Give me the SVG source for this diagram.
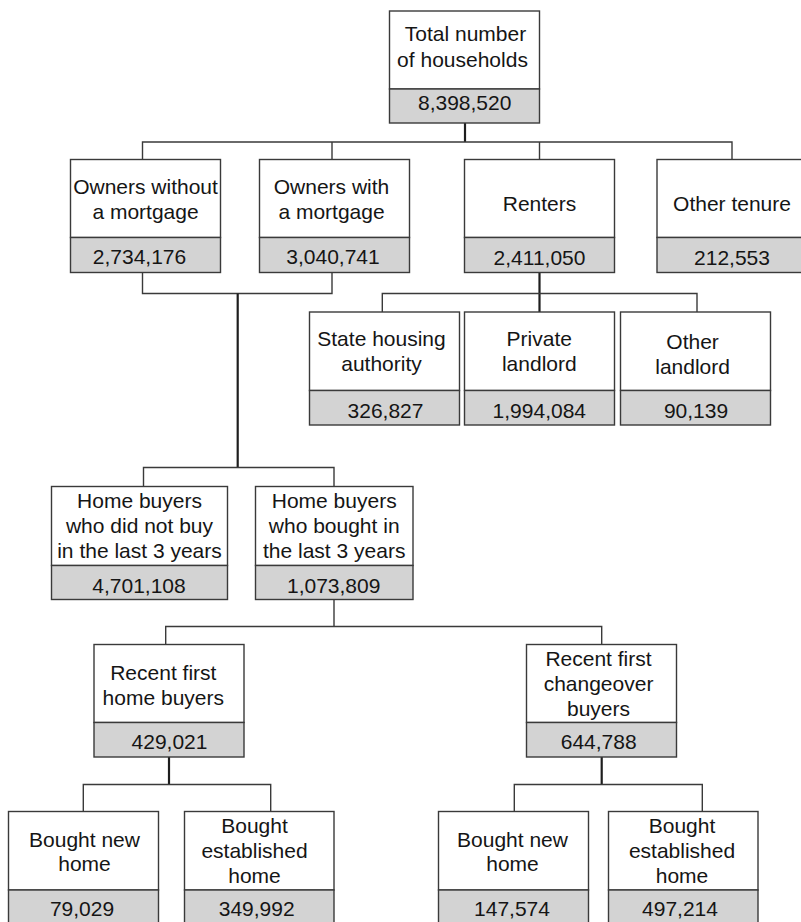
<svg xmlns="http://www.w3.org/2000/svg" width="801" height="922" viewBox="0 0 801 922">
<style>
.w{fill:#fff;stroke:#3a3a3a;stroke-width:1.4}
.g{fill:#d3d3d3;stroke:#3a3a3a;stroke-width:1.4}
.t{font-family:"Liberation Sans",Arial,sans-serif;font-size:21px;fill:#151515;text-anchor:middle}
.c{fill:none;stroke:#3a3a3a;stroke-width:1.4}
.k{fill:none;stroke:#1e1e1e;stroke-width:2.2}
</style>
<rect width="801" height="922" fill="#fff"/>
<g id="connectors">
<path class="k" d="M465 123V142"/>
<path class="c" d="M142.5 159.5V142H732V159.5M332 142V159.5M539.5 142V159.5"/>
<path class="c" d="M142.5 272.5V293.5H332V272.5"/>
<path class="k" d="M237.7 293.5V467.5"/>
<path class="c" d="M143.5 486.5V467.5H334V486.5"/>
<path class="k" d="M539.5 272.5V312"/>
<path class="c" d="M382.3 312V293.5H697V312"/>
<path class="c" d="M334 599.5V626.5"/>
<path class="c" d="M165.7 644.5V626.5H601.7V644.5"/>
<path class="k" d="M169 757V784.5"/>
<path class="c" d="M83.3 811.5V784.5H270.7V811.5"/>
<path class="k" d="M601.7 757V784.5"/>
<path class="c" d="M514.3 811.5V784.5H702.3V811.5"/>
</g>
<g id="total">
<rect class="w" x="389.5" y="11" width="150" height="78"/>
<rect class="g" x="389.5" y="89" width="150" height="34"/>
<text class="t" x="465.5" y="40.7">Total number</text>
<text class="t" x="462.5" y="66.7">of households</text>
<text class="t" x="464.7" y="110">8,398,520</text>
</g>
<g id="owners-without">
<rect class="w" x="70.5" y="159.5" width="150" height="78"/>
<rect class="g" x="70.5" y="237.5" width="150" height="35"/>
<text class="t" x="145.5" y="194">Owners without</text>
<text class="t" x="145.5" y="219">a mortgage</text>
<text class="t" x="139.5" y="264">2,734,176</text>
</g>
<g id="owners-with">
<rect class="w" x="259.5" y="159.5" width="150" height="78"/>
<rect class="g" x="259.5" y="237.5" width="150" height="35"/>
<text class="t" x="331.5" y="194">Owners with</text>
<text class="t" x="331.5" y="219">a mortgage</text>
<text class="t" x="333" y="264">3,040,741</text>
</g>
<g id="renters">
<rect class="w" x="464.5" y="159.5" width="150" height="78"/>
<rect class="g" x="464.5" y="237.5" width="150" height="35"/>
<text class="t" x="539.5" y="210.5">Renters</text>
<text class="t" x="539.5" y="264.5">2,411,050</text>
</g>
<g id="other-tenure">
<rect class="w" x="657" y="159.5" width="150" height="78"/>
<rect class="g" x="657" y="237.5" width="150" height="35"/>
<text class="t" x="732" y="210.5">Other tenure</text>
<text class="t" x="732" y="264.5">212,553</text>
</g>
<g id="state-housing">
<rect class="w" x="309.5" y="312" width="150" height="78.5"/>
<rect class="g" x="309.5" y="390.5" width="150" height="34.5"/>
<text class="t" x="381.5" y="345.7">State housing</text>
<text class="t" x="381.5" y="370.7">authority</text>
<text class="t" x="385.5" y="418">326,827</text>
</g>
<g id="private-landlord">
<rect class="w" x="464.5" y="312" width="150" height="78.5"/>
<rect class="g" x="464.5" y="390.5" width="150" height="34.5"/>
<text class="t" x="539.3" y="345.7">Private</text>
<text class="t" x="539.3" y="370.7">landlord</text>
<text class="t" x="539.3" y="418">1,994,084</text>
</g>
<g id="other-landlord">
<rect class="w" x="620.5" y="312" width="150" height="78.5"/>
<rect class="g" x="620.5" y="390.5" width="150" height="34.5"/>
<text class="t" x="692.6" y="348.5">Other</text>
<text class="t" x="692.6" y="373.5">landlord</text>
<text class="t" x="696" y="418">90,139</text>
</g>
<g id="hb-not">
<rect class="w" x="51.5" y="486.5" width="176" height="79"/>
<rect class="g" x="51.5" y="565.5" width="176" height="34"/>
<text class="t" x="139.5" y="508.3">Home buyers</text>
<text class="t" x="139.5" y="533.3">who did not buy</text>
<text class="t" x="139.5" y="558.3">in the last 3 years</text>
<text class="t" x="139" y="593">4,701,108</text>
</g>
<g id="hb-bought">
<rect class="w" x="255.5" y="486.5" width="157.5" height="79"/>
<rect class="g" x="255.5" y="565.5" width="157.5" height="34"/>
<text class="t" x="334.2" y="508.3">Home buyers</text>
<text class="t" x="334.2" y="533.3">who bought in</text>
<text class="t" x="334.2" y="558.3">the last 3 years</text>
<text class="t" x="333.7" y="593">1,073,809</text>
</g>
<g id="rf-home">
<rect class="w" x="94" y="644.5" width="150" height="78"/>
<rect class="g" x="94" y="722.5" width="150" height="34.5"/>
<text class="t" x="163.3" y="680">Recent first</text>
<text class="t" x="163.3" y="705">home buyers</text>
<text class="t" x="169.5" y="749.3">429,021</text>
</g>
<g id="rf-changeover">
<rect class="w" x="526.5" y="644.5" width="150" height="78"/>
<rect class="g" x="526.5" y="722.5" width="150" height="34.5"/>
<text class="t" x="598.5" y="665.7">Recent first</text>
<text class="t" x="598.5" y="690.7">changeover</text>
<text class="t" x="598.5" y="715.7">buyers</text>
<text class="t" x="598.7" y="749.3">644,788</text>
</g>
<g id="new-left">
<rect class="w" x="8.5" y="811.5" width="150" height="78.5"/>
<rect class="g" x="8.5" y="890" width="150" height="35"/>
<text class="t" x="84.5" y="846.5">Bought new</text>
<text class="t" x="84.5" y="871">home</text>
<text class="t" x="82" y="915.5">79,029</text>
</g>
<g id="est-left">
<rect class="w" x="184.5" y="811.5" width="149.5" height="78.5"/>
<rect class="g" x="184.5" y="890" width="149.5" height="35"/>
<text class="t" x="254.5" y="833.3">Bought</text>
<text class="t" x="254.5" y="858.3">established</text>
<text class="t" x="254.5" y="883.3">home</text>
<text class="t" x="256.7" y="915.5">349,992</text>
</g>
<g id="new-right">
<rect class="w" x="438.5" y="811.5" width="150" height="78.5"/>
<rect class="g" x="438.5" y="890" width="150" height="35"/>
<text class="t" x="512.5" y="846.5">Bought new</text>
<text class="t" x="512.5" y="871">home</text>
<text class="t" x="512" y="915.5">147,574</text>
</g>
<g id="est-right">
<rect class="w" x="608.5" y="811.5" width="149.5" height="78.5"/>
<rect class="g" x="608.5" y="890" width="149.5" height="35"/>
<text class="t" x="682" y="833.3">Bought</text>
<text class="t" x="682" y="858.3">established</text>
<text class="t" x="682" y="883.3">home</text>
<text class="t" x="680" y="915.5">497,214</text>
</g>
</svg>
